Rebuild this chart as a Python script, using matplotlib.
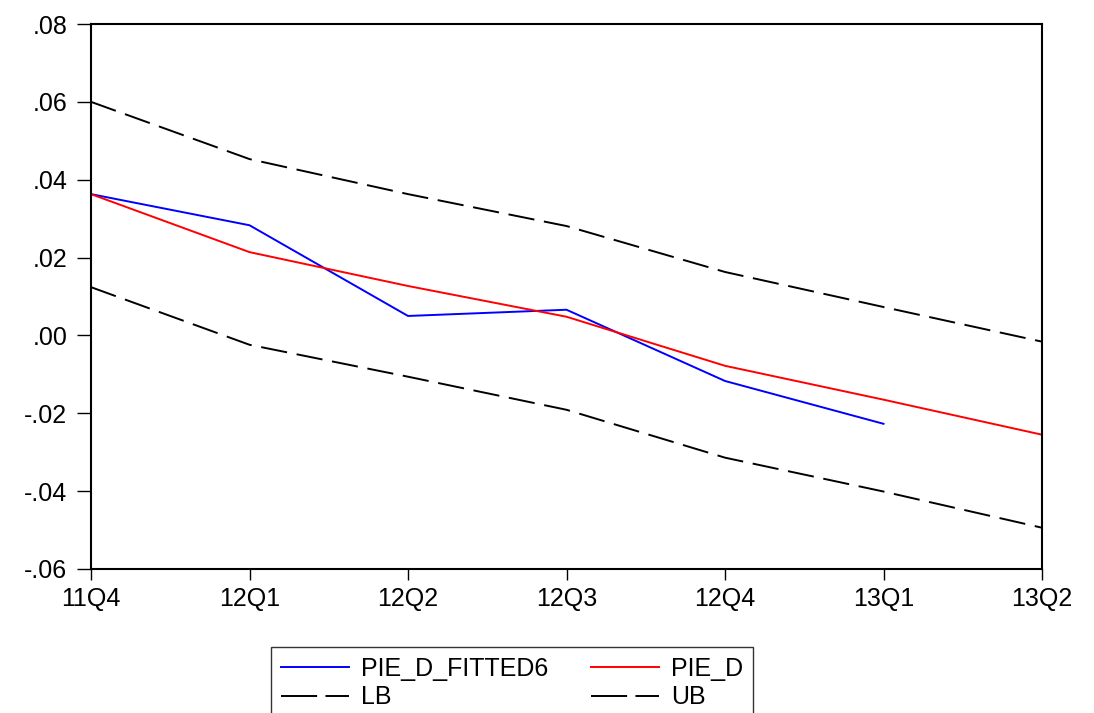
import matplotlib.pyplot as plt
import numpy as np

plt.rcParams['font.family'] = ['Liberation Sans', 'DejaVu Sans']
plt.rcParams['lines.scale_dashes'] = False

# Data
quarters = ['11Q4', '12Q1', '12Q2', '12Q3', '12Q4', '13Q1', '13Q2']
pie_d_fitted6 = [0.0363, 0.0283, 0.0050, 0.0066, -0.0117, -0.0227]
pie_d = [0.0363, 0.0214, 0.0127, 0.0048, -0.0078, -0.0165, -0.0255]
lb = [0.0124, -0.0024, -0.0106, -0.0191, -0.0314, -0.0401, -0.0494]
ub = [0.0600, 0.0453, 0.0363, 0.0281, 0.0163, 0.0073, -0.0016]

yticks = [-0.06, -0.04, -0.02, 0.0, 0.02, 0.04, 0.06, 0.08]
ytick_labels = ['-.06', '-.04', '-.02', '.00', '.02', '.04', '.06', '.08']

W, H = 1094, 713
fig = plt.figure(figsize=(W/100, H/100), dpi=100)
ax = fig.add_axes([91/W, 1 - 569/H, (1042-91)/W, (569-24)/H])

x = np.arange(len(quarters))
lw = 1.4
dash = (19, 7)
ax.plot(x[:len(pie_d_fitted6)], pie_d_fitted6, color='#0000ff', lw=lw)
ax.plot(x, pie_d, color='#ff0000', lw=lw)
ax.plot(x, lb, color='black', lw=lw, dashes=dash)
ax.plot(x, ub, color='black', lw=lw, dashes=dash)

ax.set_xlim(0, len(quarters) - 1)
ax.set_ylim(-0.06, 0.08)
ax.set_xticks(x)
ax.set_xticklabels(quarters)
ax.set_yticks(yticks)
ax.set_yticklabels(ytick_labels)
ax.tick_params(axis='both', labelsize=18, direction='out', width=1, colors='black')
ax.tick_params(axis='y', length=10, pad=7)
ax.tick_params(axis='x', length=8, pad=5)
for s in ax.spines.values():
    s.set_linewidth(1.5)

# Legend below the plot
leg_dash = (26, 6)
handles = [
    plt.Line2D([], [], color='#0000ff', lw=lw),
    plt.Line2D([], [], color='black', lw=lw, dashes=leg_dash),
    plt.Line2D([], [], color='#ff0000', lw=lw),
    plt.Line2D([], [], color='black', lw=lw, dashes=leg_dash),
]
labels = ['PIE_D_FITTED6', 'LB', 'PIE_D', 'UB']
leg = fig.legend(handles, labels, ncol=2, loc='upper left',
                 bbox_to_anchor=(271/W, 1 - 647/H),
                 fontsize=18, frameon=True, fancybox=False,
                 edgecolor='black', handlelength=2.72, handletextpad=0.48,
                 borderpad=0.4, labelspacing=0.18, columnspacing=1.7,
                 borderaxespad=0)
leg.get_frame().set_linewidth(1.0)

fig.savefig('out.png', dpi=100)
